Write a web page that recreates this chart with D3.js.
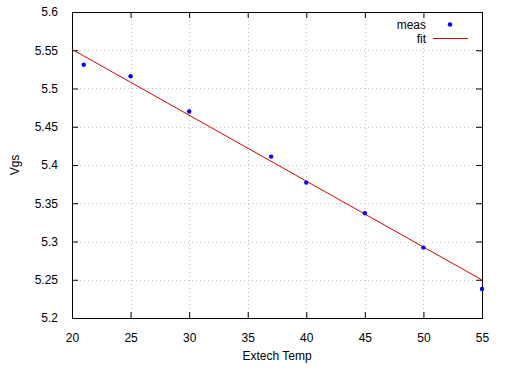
<!DOCTYPE html>
<html>
<head>
<meta charset="utf-8">
<script src="https://cdn.jsdelivr.net/npm/d3@7"></script>
<style>
  body { margin: 0; background: #fff; }
  text { font-family: "Liberation Sans", Arial, sans-serif; font-size: 12px; fill: #000; }
</style>
</head>
<body>
<div id="chart"></div>
<script>
// measured points
const temps = [21, 25, 30, 37, 40, 45, 50, 55];
const vgs = [5.531, 5.516, 5.470, 5.411, 5.377, 5.337, 5.292, 5.238];

// fit line endpoints
const fitTemps = [20, 55];
const fitVgs = [5.5512, 5.2497];

const xTicks = [20, 25, 30, 35, 40, 45, 50, 55];
const yTicks = [5.2, 5.25, 5.3, 5.35, 5.4, 5.45, 5.5, 5.55, 5.6];

const width = 506, height = 372;
const margin = { top: 12, right: 24, bottom: 54, left: 72 };
const innerW = width - margin.left - margin.right;
const innerH = height - margin.top - margin.bottom;

const svg = d3.select("#chart").append("svg")
  .attr("width", width).attr("height", height);

const g = svg.append("g")
  .attr("transform", `translate(${margin.left},${margin.top})`);

const x = d3.scaleLinear().domain([20, 55]).range([0, innerW]);
const y = d3.scaleLinear().domain([5.2, 5.6]).range([innerH, 0]);

// grid
g.append("g").selectAll("line")
  .data(xTicks.slice(1, -1))
  .join("line")
  .attr("x1", d => Math.round(x(d)) + 0.5).attr("x2", d => Math.round(x(d)) + 0.5)
  .attr("y1", 0).attr("y2", innerH)
  .attr("stroke", "#c4c4c4").attr("stroke-dasharray", "1,3");
g.append("g").selectAll("line")
  .data(yTicks.slice(1, -1))
  .join("line")
  .attr("y1", d => Math.round(y(d)) + 0.5).attr("y2", d => Math.round(y(d)) + 0.5)
  .attr("x1", 0).attr("x2", innerW)
  .attr("stroke", "#c4c4c4").attr("stroke-dasharray", "1,3");

// axes, gnuplot style: ticks pointing inward on all four sides
const fmt = d => d3.format("")(+d.toFixed(2));
const axisStyle = sel => {
  sel.select(".domain").remove();
  sel.selectAll("text").style("font-family", "Liberation Sans, Arial, sans-serif").style("font-size", "12px");
};
g.append("g").attr("transform", `translate(0,${innerH})`)
  .call(d3.axisBottom(x).tickValues(xTicks).tickFormat(fmt).tickSizeInner(-6).tickPadding(15))
  .call(axisStyle);
g.append("g")
  .call(d3.axisLeft(y).tickValues(yTicks).tickFormat(fmt).tickSizeInner(-6).tickPadding(14))
  .call(axisStyle);
g.append("g")
  .call(d3.axisTop(x).tickValues(xTicks).tickFormat("").tickSizeInner(-6))
  .call(axisStyle);
g.append("g").attr("transform", `translate(${innerW},0)`)
  .call(d3.axisRight(y).tickValues(yTicks).tickFormat("").tickSizeInner(-6))
  .call(axisStyle);

g.append("rect")
  .attr("x", 0.5).attr("y", 0.5)
  .attr("width", innerW).attr("height", innerH)
  .attr("fill", "none").attr("stroke", "#000");

// fit line
const line = d3.line().x(d => x(d[0])).y(d => y(d[1]));
g.append("path")
  .datum(fitTemps.map((t, i) => [t, fitVgs[i]]))
  .attr("fill", "none").attr("stroke", "#e00000").attr("stroke-width", 1)
  .attr("d", line);

// measured points
g.selectAll(".pt")
  .data(temps.map((t, i) => [t, vgs[i]]))
  .join("circle")
  .attr("class", "pt")
  .attr("cx", d => x(d[0])).attr("cy", d => y(d[1]))
  .attr("r", 2.2).attr("fill", "#0000ff");

// axis titles
svg.append("text")
  .attr("x", margin.left + innerW / 2).attr("y", 360)
  .attr("text-anchor", "middle").text("Extech Temp");
svg.append("text")
  .attr("transform", `translate(19,${margin.top + innerH / 2}) rotate(-90)`)
  .attr("text-anchor", "middle").text("Vgs");

// legend
const legend = svg.append("g").attr("transform", "translate(426,0)");
legend.append("text").attr("x", 0).attr("y", 29).attr("text-anchor", "end").text("meas");
legend.append("circle").attr("cx", 24).attr("cy", 24.5).attr("r", 2.2).attr("fill", "#0000ff");
legend.append("text").attr("x", 0).attr("y", 43).attr("text-anchor", "end").text("fit");
legend.append("line")
  .attr("x1", 7).attr("x2", 42).attr("y1", 38.5).attr("y2", 38.5)
  .attr("stroke", "#e00000");
</script>
</body>
</html>
